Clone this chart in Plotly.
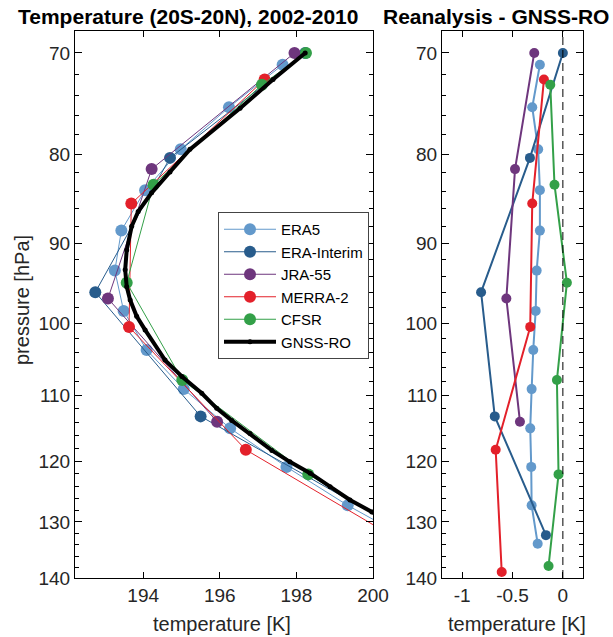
import numpy as np
import plotly.graph_objects as go

# ---------------- data ----------------
names = ["ERA5", "ERA-Interim", "JRA-55", "MERRA-2", "CFSR"]
colors = ["#6399CB", "#285C8C", "#6E367D", "#E3202A", "#33A048"]

# left panel: temperature profiles [K] vs pressure [hPa]
era5_p = [71.1, 75.2, 79.5, 83.9, 88.5, 93.3, 98.4, 103.6, 109.1, 114.9, 120.9, 127.2, 133.8]
era5_T = [197.64, 196.24, 194.98, 194.05, 193.43, 193.26, 193.49, 194.09, 195.06, 196.27, 197.74, 199.34, 201.15]
erai_p = [70.0, 80.4, 96.0, 113.1, 132.3]
erai_T = [198.23, 194.70, 192.75, 195.50, 201.0]
jra_p = [70.0, 81.6, 96.8, 113.9]
jra_T = [197.95, 194.22, 193.08, 195.93]
merra_p = [72.5, 85.4, 100.5, 118.2, 138.9]
merra_T = [197.17, 193.69, 193.63, 196.68, 202.1]
cfsr_p = [70.0, 73.0, 83.3, 94.8, 107.8, 122.1, 137.8]
cfsr_T = [198.25, 197.10, 194.27, 193.57, 195.02, 198.31, 202.3]

gnss_p = [70.0, 72.5, 75.3, 79.5, 81.9, 84.2, 86.3, 88.0, 90.8, 93.2, 95.3, 97.0,
          99.1, 100.9, 105.0, 107.3, 109.7, 111.9, 113.7, 115.7, 118.3, 120.1,
          121.9, 124.1, 126.3, 128.3, 131.0]
gnss_T = [198.23, 197.39, 196.53, 195.22, 194.70, 194.22, 193.87, 193.70, 193.57,
          193.53, 193.57, 193.66, 193.83, 194.05, 194.57, 195.01, 195.53, 195.92,
          196.31, 196.79, 197.36, 197.83, 198.36, 198.88, 199.40, 199.97, 200.70]

# right panel: reanalysis minus GNSS-RO [K]
era5_dp = [71.1, 75.2, 79.5, 83.9, 88.5, 93.3, 98.4, 103.6, 109.1, 114.9, 120.9, 127.2, 133.8]
era5_d = [-0.228, -0.304, -0.245, -0.228, -0.228, -0.260, -0.270, -0.294, -0.310, -0.324, -0.314, -0.310, -0.250]
erai_dp = [70.0, 80.4, 96.0, 113.1, 132.3]
erai_d = [0.0, -0.327, -0.812, -0.676, -0.168]
jra_dp = [70.0, 81.6, 96.8, 113.9]
jra_d = [-0.284, -0.475, -0.561, -0.426]
merra_dp = [72.5, 85.4, 100.5, 118.2, 138.9]
merra_d = [-0.188, -0.304, -0.324, -0.667, -0.607]
cfsr_dp = [73.0, 83.3, 94.8, 107.8, 122.1, 137.8]
cfsr_d = [-0.125, -0.083, 0.040, -0.059, -0.043, -0.142]

left_sets = [(era5_T, era5_p), (erai_T, erai_p), (jra_T, jra_p), (merra_T, merra_p), (cfsr_T, cfsr_p)]
right_sets = [(era5_d, era5_dp), (erai_d, erai_dp), (jra_d, jra_dp), (merra_d, merra_dp), (cfsr_d, cfsr_dp)]

major_p = [70, 80, 90, 100, 110, 120, 130, 140]
minor_p = [72, 74, 76, 78, 82, 84, 86, 88, 92, 94, 96, 98, 102, 104, 106, 108,
           112, 114, 116, 118, 122, 124, 126, 128, 132, 134, 136, 138]
left_xticks = [194, 196, 198, 200]
right_xticks = [-1, -0.5, 0]
right_xlabels = ["-1", "-0.5", "0"]

# ---------------- figure ----------------
W, H = 613, 637
FONT = "Liberation Sans, Arial, Helvetica, sans-serif"
TXT = "#262626"
fig = go.Figure()

for (T, p), n, c in zip(left_sets, names, colors):
    fig.add_trace(go.Scatter(x=T, y=p, mode="lines+markers", name=n,
                             line=dict(color=c, width=1),
                             marker=dict(color=c, size=12, line=dict(width=0)),
                             xaxis="x", yaxis="y"))
fig.add_trace(go.Scatter(x=gnss_T, y=gnss_p, mode="lines+markers", name="GNSS-RO",
                         line=dict(color="black", width=4),
                         marker=dict(color="black", size=5, symbol="circle"),
                         xaxis="x", yaxis="y"))

for (d, p), n, c in zip(right_sets, names, colors):
    fig.add_trace(go.Scatter(x=d, y=p, mode="lines+markers", name=n, showlegend=False,
                             line=dict(color=c, width=2),
                             marker=dict(color=c, size=10, line=dict(width=0)),
                             xaxis="x2", yaxis="y2"))

ax_common = dict(showline=True, linecolor="black", linewidth=1, mirror="allticks",
                 ticks="inside", tickcolor="black", showgrid=False, zeroline=False,
                 tickfont=dict(family=FONT, size=19, color=TXT))
yrange = [np.log10(140), np.log10(68)]
yax = dict(ax_common, type="log", range=yrange, tickmode="array", tickvals=major_p,
           ticktext=[str(v) for v in major_p], ticklen=7,
           minor=dict(tickvals=minor_p, ticks="inside", ticklen=4, tickcolor="black"))

L0, L1 = 75 / W, 373 / W
R0, R1 = 442 / W, 583 / W
B, T_ = 1 - 578 / H, 1 - 31 / H

fig.update_layout(
    width=W, height=H, margin=dict(l=0, r=0, t=0, b=0, autoexpand=False),
    paper_bgcolor="white", plot_bgcolor="white",
    font=dict(family=FONT, color="black"),
    xaxis=dict(ax_common, domain=[L0, L1], range=[192.22, 200], tickmode="array",
               tickvals=left_xticks, ticklen=6, anchor="y"),
    yaxis=dict(yax, domain=[B, T_], anchor="x"),
    xaxis2=dict(ax_common, domain=[R0, R1], range=[-1.2, 0.2], tickmode="array",
                tickvals=right_xticks, ticktext=right_xlabels, ticklen=6, anchor="y2"),
    yaxis2=dict(yax, domain=[B, T_], anchor="x2"),
    legend=dict(x=218 / W, y=1 - 212 / H, xanchor="left", yanchor="top",
                bgcolor="white", bordercolor="#444444", borderwidth=1,
                font=dict(family=FONT, size=15, color="black"),
                itemwidth=52, tracegroupgap=0),
    showlegend=True,
    shapes=[dict(type="line", xref="x2", yref="paper", x0=0, x1=0, y0=B, y1=T_,
                 line=dict(color="black", width=1, dash="8px,5px"))],
    annotations=[
        dict(text="<b>Temperature (20S-20N), 2002-2010</b>", x=188 / W, y=1 - 17 / H,
             xref="paper", yref="paper", showarrow=False, xanchor="center", yanchor="middle",
             font=dict(family=FONT, size=21, color="black")),
        dict(text="<b>Reanalysis - GNSS-RO</b>", x=496 / W, y=1 - 17 / H,
             xref="paper", yref="paper", showarrow=False, xanchor="center", yanchor="middle",
             font=dict(family=FONT, size=21, color="black")),
        dict(text="pressure [hPa]", x=22 / W, y=1 - 300 / H, textangle=-90,
             xref="paper", yref="paper", showarrow=False, xanchor="center", yanchor="middle",
             font=dict(family=FONT, size=20, color=TXT)),
        dict(text="temperature [K]", x=222 / W, y=1 - 624 / H,
             xref="paper", yref="paper", showarrow=False, xanchor="center", yanchor="middle",
             font=dict(family=FONT, size=20, color=TXT)),
        dict(text="temperature [K]", x=517 / W, y=1 - 624 / H,
             xref="paper", yref="paper", showarrow=False, xanchor="center", yanchor="middle",
             font=dict(family=FONT, size=20, color=TXT)),
    ],
)

fig.write_html("out.html", config={"displayModeBar": False},
               post_script="document.body.style.margin='0px';")
